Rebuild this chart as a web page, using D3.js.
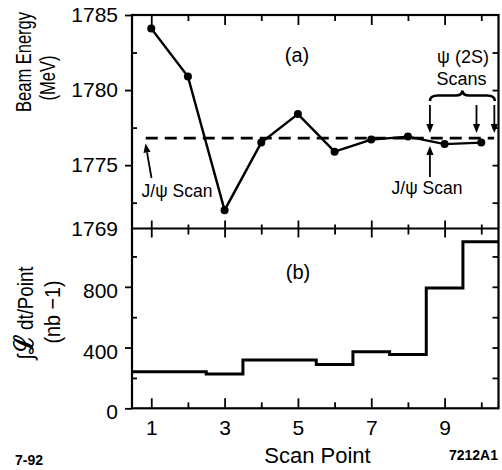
<!DOCTYPE html>
<html><head><meta charset="utf-8">
<script src="https://cdn.jsdelivr.net/npm/d3@7"></script>
<style>
html,body{margin:0;padding:0;background:#fff;}
svg{display:block;font-family:"Liberation Sans",Arial,Helvetica,sans-serif;}
</style></head>
<body>
<svg id="chart" width="502" height="470"></svg>
<script>
// ---- data ----
const scanPoints = [1,2,3,4,5,6,7,8,9,10];
const beamEnergy = [1784.1,1780.9,1772.0,1776.5,1778.4,1775.9,1776.7,1776.9,1776.4,1776.5];
const jpsiEnergy = 1776.8;              // dashed reference line (J/psi scan)
const lumiPerPoint = [241,241,226,318,318,289,372,355,793,1096];
const xTickLabels = ["1","3","5","7","9"];
const xMajorTicks = [1,3,5,7,9];
const xMinorTicks = [2,4,6,8,10];
const yTopTicks = [1785,1780,1775];
const yTopTickLabels = ["1785","1780","1775"];
const yTopBottomLabel = "1769";
const yTopMinor = [1782.5,1777.5,1772.5];
const yBotTicks = [0,400,800];
const yBotMinor = [200,600,1000];
const psi2sArrowX = [8.6,9.87,10.37];

// ---- layout ----
const svg = d3.select("#chart");
const L = 132, R = 498.5, T = 15, MID = 228.5, B = 408.3;
const x = d3.scaleLinear().domain([0.475,10.47]).range([L,R]);
const yTopMin = 1770.78;
const yT = d3.scaleLinear().domain([yTopMin,1785]).range([MID,T]);
const yB = d3.scaleLinear().domain([0,1184]).range([B,MID]);
const FS = 21;

function styleAxis(g, showText){
  g.select(".domain").remove();
  g.selectAll(".tick line").attr("stroke","#000").attr("stroke-width",1.8);
  g.selectAll(".tick text").attr("fill","#000").style("font-size",FS+"px")
    .style("font-family",'"Liberation Sans",Arial,sans-serif');
  if(!showText) g.selectAll(".tick text").remove();
}
function ax(axis, tx, ty, showText){
  const g = svg.append("g").attr("transform",`translate(${tx},${ty})`).call(axis);
  styleAxis(g, showText);
  return g;
}

// frame
svg.append("rect").attr("x",L).attr("y",T).attr("width",R-L).attr("height",B-T)
  .attr("fill","none").attr("stroke","#000").attr("stroke-width",2.2);
svg.append("line").attr("x1",L).attr("x2",R).attr("y1",MID).attr("y2",MID)
  .attr("stroke","#000").attr("stroke-width",2.2);

// ---- top panel axes ----
ax(d3.axisLeft(yT).tickValues(yTopTicks).tickSize(7).tickPadding(7)
   .tickFormat((d,i)=>yTopTickLabels[i]), L, 0, true);
ax(d3.axisLeft(yT).tickValues([yTopMin]).tickSize(0).tickPadding(14)
   .tickFormat(()=>yTopBottomLabel), L, 0, true);
ax(d3.axisRight(yT).tickValues(yTopMinor).tickSize(5), L, 0, false);
ax(d3.axisLeft(yT).tickValues(yTopMinor.concat(yTopTicks.slice(1))).tickSize(6), R, 0, false);
ax(d3.axisBottom(x).tickValues(xMajorTicks).tickSize(10), 0, T, false);
ax(d3.axisBottom(x).tickValues(xMinorTicks).tickSize(6), 0, T, false);
ax(d3.axisTop(x).tickValues(xMajorTicks).tickSize(8), 0, MID, false);
ax(d3.axisTop(x).tickValues(xMinorTicks).tickSize(4), 0, MID, false);
ax(d3.axisBottom(x).tickValues(xMajorTicks).tickSize(9), 0, MID, false);
ax(d3.axisBottom(x).tickValues(xMinorTicks).tickSize(6), 0, MID, false);

// ---- bottom panel axes ----
ax(d3.axisLeft(yB).tickValues(yBotTicks).tickSize(7).tickPadding(7), L, 0, true)
  .selectAll(".tick text").attr("dy","0.5em");
ax(d3.axisRight(yB).tickValues(yBotMinor).tickSize(5), L, 0, false);
ax(d3.axisLeft(yB).tickValues(yBotMinor.concat([400,800])).tickSize(6), R, 0, false);
ax(d3.axisBottom(x).tickValues(xMajorTicks).tickSize(-10).tickPadding(12)
   .tickFormat((d,i)=>xTickLabels[i]), 0, B, true);
ax(d3.axisBottom(x).tickValues(xMinorTicks).tickSize(-6), 0, B, false);

// ---- top panel data ----
svg.append("line")
  .attr("x1",x(0.85)).attr("x2",x(10.35))
  .attr("y1",yT(jpsiEnergy)).attr("y2",yT(jpsiEnergy))
  .attr("stroke","#000").attr("stroke-width",2.6).attr("stroke-dasharray","12,7");

const pts = scanPoints.map((s,i)=>({s, e:beamEnergy[i]}));
svg.append("path").datum(pts)
  .attr("d", d3.line().x(d=>x(d.s)).y(d=>yT(d.e)))
  .attr("fill","none").attr("stroke","#000").attr("stroke-width",2.4);
svg.selectAll("circle.pt").data(pts).join("circle").attr("class","pt")
  .attr("cx",d=>x(d.s)).attr("cy",d=>yT(d.e)).attr("r",4).attr("fill","#000");

// ---- bottom panel histogram ----
const xd = x.domain();
const steps = lumiPerPoint.map((v,i)=>({e: i===0 ? xd[0] : scanPoints[i]-0.5, v}));
steps.push({e: xd[1], v: lumiPerPoint[lumiPerPoint.length-1]});
svg.append("path").datum(steps)
  .attr("d", d3.line().curve(d3.curveStepAfter).x(d=>x(d.e)).y(d=>yB(d.v)))
  .attr("fill","none").attr("stroke","#000").attr("stroke-width",3);

// ---- annotations ----
function arrow(x0,y0,x1,y1,head=9,w=3.6){
  const dx=x1-x0, dy=y1-y0, len=Math.hypot(dx,dy), ux=dx/len, uy=dy/len;
  const bx=x1-ux*head, by=y1-uy*head;
  svg.append("line").attr("x1",x0).attr("y1",y0).attr("x2",bx).attr("y2",by)
    .attr("stroke","#000").attr("stroke-width",1.8);
  svg.append("path").attr("d",`M${x1},${y1}L${bx-uy*w},${by+ux*w}L${bx+uy*w},${by-ux*w}Z`)
    .attr("fill","#000");
}
function txt(s,xx,yy,size,anchor="middle",weight="normal"){
  return svg.append("text").attr("x",xx).attr("y",yy).attr("text-anchor",anchor)
    .style("font-size",size+"px").style("font-weight",weight).attr("fill","#000").text(s);
}

txt("(a)",297,62,20);
txt("(b)",298,279,20);

txt("ψ (2S)",463,63,18);
txt("Scans",461.5,85,18);
const bx1 = x(8.6), bx2 = x(10.37), bm = (bx1+bx2)/2, by0 = 101, by1 = 95.5, byp = 90.5;
svg.append("path")
  .attr("d",`M${bx1},${by0}Q${bx1},${by1} ${bx1+8},${by1}L${bm-7},${by1}Q${bm},${by1} ${bm},${byp}`+
            `Q${bm},${by1} ${bm+7},${by1}L${bx2-8},${by1}Q${bx2},${by1} ${bx2},${by0}`)
  .attr("fill","none").attr("stroke","#000").attr("stroke-width",2.6);
psi2sArrowX.forEach(v=>arrow(x(v)+(v>10.3?-0.5:0),105,x(v)+(v>10.3?-0.5:0),133));

txt("J/ψ Scan",177,197,17.5);
arrow(151.5,178,145.5,143.5);
txt("J/ψ Scan",427,194,17.5);
arrow(x(8.6),177,x(8.6),146);

// axis titles
function vtitle(parts,cx,cy,size,sx){
  const t = svg.append("text").attr("text-anchor","middle")
    .attr("transform",`translate(${cx},${cy}) rotate(-90) scale(${sx},1)`)
    .style("font-size",size+"px").attr("fill","#000");
  parts.forEach(p=>{
    const ts=t.append("tspan").text(p.t);
    if(p.size) ts.style("font-size",p.size+"px");
    if(p.w) ts.style("font-weight",p.w);
    if(p.f) ts.style("font-family",p.f);
  });
  return t;
}
vtitle([{t:"Beam Energy"}],31,62,22,0.75);
vtitle([{t:"(MeV)"}],55,78,22,0.75);
vtitle([{t:"∫",size:22},{t:"ℒ",size:27,w:"bold",f:'"DejaVu Serif",serif'},{t:" dt/Point"}],33,313,22,0.85);
vtitle([{t:"(nb −1)"}],60,312,22,0.9);

txt("Scan Point",317.5,463,22);
txt("7-92",15,465,14,"start","bold");
txt("7212A1",498,460,14,"end","bold");
</script>
</body></html>
